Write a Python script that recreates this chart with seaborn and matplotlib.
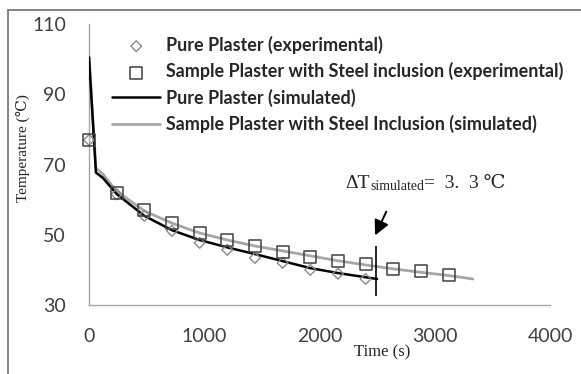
import matplotlib
matplotlib.use("Agg")
import matplotlib.pyplot as plt
from matplotlib.lines import Line2D
import pandas as pd
import seaborn as sns

# experimental readings (s, degC)
exp_time = [0, 240, 480, 720, 960, 1200, 1440, 1680, 1920, 2160, 2400, 2640, 2880, 3120]
pure_exp = [77.0, 61.5, 55.4, 51.1, 47.7, 45.7, 43.4, 42.0, 40.0, 38.9, 37.4]
steel_exp = [77.0, 62.0, 57.1, 53.4, 50.6, 48.6, 46.9, 45.1, 43.7, 42.6, 41.7, 40.3, 39.7, 38.6]

# simulated curves
sim_pure_time = [0, 60, 120, 240, 480, 720, 960, 1200, 1440, 1680, 1920, 2160, 2400, 2500]
sim_pure = [100.5, 67.7, 66.2, 61.6, 55.4, 51.3, 48.5, 46.4, 44.5, 42.5, 40.5, 39.1, 37.9, 37.4]
sim_steel_time = [0, 60, 120, 240, 480, 720, 960, 1200, 1440, 1680, 1920, 2160, 2400, 2640, 2880, 3120, 3330]
sim_steel = [101.0, 69.0, 67.3, 62.4, 56.8, 53.3, 50.5, 48.5, 46.8, 45.4, 44.0, 42.6, 41.4, 40.3, 39.3, 38.4, 37.4]

labels = ["Pure Plaster (experimental)",
          "Sample Plaster with Steel inclusion (experimental)",
          "Pure Plaster (simulated)",
          "Sample Plaster with Steel Inclusion (simulated)"]

df_pure = pd.DataFrame({"t": exp_time[:len(pure_exp)], "T": pure_exp})
df_steel = pd.DataFrame({"t": exp_time, "T": steel_exp})
df_sp = pd.DataFrame({"t": sim_pure_time, "T": sim_pure})
df_ss = pd.DataFrame({"t": sim_steel_time, "T": sim_steel})

sns.set_style("white")

fig = plt.figure(figsize=(5.81, 3.74), dpi=100)
ax = fig.add_axes([89 / 581, 1 - 305 / 374, 461 / 581, 281 / 374])

sns.lineplot(data=df_ss, x="t", y="T", color="#a6a6a6", lw=2.0, label=labels[3], ax=ax, zorder=2)
sns.lineplot(data=df_sp, x="t", y="T", color="black", lw=1.8, label=labels[2], ax=ax, zorder=3)
sns.scatterplot(data=df_pure, x="t", y="T", marker="D", s=30, facecolors="none",
                edgecolors="#8a8a8a", linewidths=1.0, label=labels[0], ax=ax, zorder=4, clip_on=False)
sns.scatterplot(data=df_steel, x="t", y="T", marker="s", s=75, facecolors="none",
                edgecolors="#404040", linewidths=1.1, label=labels[1], ax=ax, zorder=5, clip_on=False)

ax.set_xlim(0, 4000)
ax.set_ylim(30, 110)
ax.set_xticks([0, 1000, 2000, 3000, 4000])
ax.set_yticks([30, 50, 70, 90, 110])

for s in ["top", "right"]:
    ax.spines[s].set_visible(False)
for s in ["left", "bottom"]:
    ax.spines[s].set_color("#a6a6a6")
    ax.spines[s].set_linewidth(1.0)
ax.tick_params(axis="both", direction="out", length=6.5, width=1.0, color="#a6a6a6",
               labelsize=14, labelcolor="#404040", pad=10)
for lab in ax.get_xticklabels() + ax.get_yticklabels():
    lab.set_family("Lato")

serif = ["Liberation Serif", "DejaVu Serif"]
ax.set_xlabel("Time (s)", family=serif, fontsize=12)
ax.set_ylabel("Temperature (℃)", family=serif, fontsize=11)
ax.xaxis.set_label_coords(0.636, -0.14)
ax.yaxis.set_label_coords(-0.128, 0.56)

# marker of the temperature difference
ax.vlines(2490, 32.6, 46.9, color="black", lw=1.2, zorder=6)
ax.annotate("", xy=(2472, 49.1), xytext=(2590, 57.3),
            arrowprops=dict(arrowstyle="-|>,head_length=0.9,head_width=0.45", color="black", lw=1.4))
t_a = ax.text(2220, 62.3, "ΔT", family=serif, fontsize=14, ha="left", va="bottom")
t_sub = ax.annotate("simulated", xy=(1, 0), xycoords=t_a, xytext=(0.5, -1.0),
                    textcoords="offset points", family=serif, fontsize=10,
                    ha="left", va="bottom")
ax.annotate("=  3.  3 ℃", xy=(1, 0), xycoords=(t_sub, t_a), family=serif, fontsize=14,
            ha="left", va="bottom")

h, l = ax.get_legend_handles_labels()
order = [l.index(x) for x in labels]
ax.legend([h[i] for i in order], [l[i] for i in order], loc="upper left",
          bbox_to_anchor=(0.05, 0.958), frameon=False, borderpad=0, borderaxespad=0,
          handlelength=2.7, handletextpad=0.3, labelspacing=0.46,
          prop={"family": "Lato", "weight": "bold", "size": 12.9})

# partial frame of the original figure
fig.add_artist(Line2D([8 / 581, 8 / 581], [0, 1 - 10 / 374], transform=fig.transFigure,
                      color="#7a7a7a", lw=1.3))
fig.add_artist(Line2D([8 / 581, 1], [1 - 10 / 374, 1 - 10 / 374], transform=fig.transFigure,
                      color="#7a7a7a", lw=1.3))

fig.savefig("out.png", dpi=100)
